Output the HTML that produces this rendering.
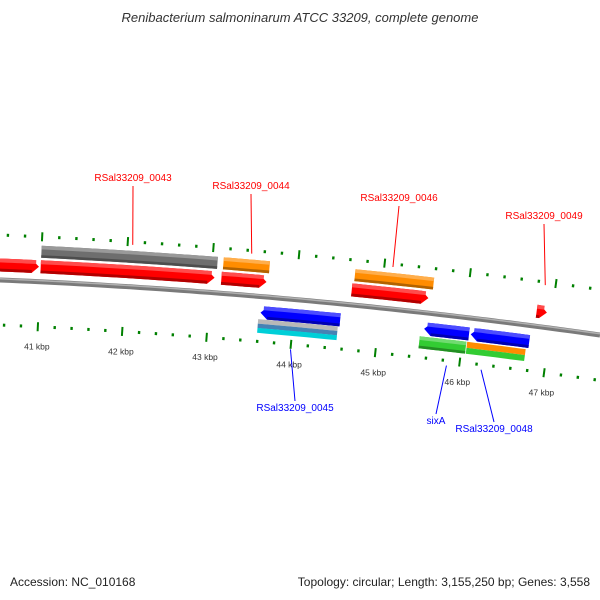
<!DOCTYPE html>
<html><head><meta charset="utf-8"><style>
body{margin:0;background:#fff}
svg{display:block;font-family:"Liberation Sans","DejaVu Sans",sans-serif}
</style></head><body>
<svg id="map" width="600" height="600" viewBox="0 0 600 600">
<text x="300" y="22" text-anchor="middle" font-size="13" font-style="italic" fill="#333">Renibacterium salmoninarum ATCC 33209, complete genome</text>
<text x="10" y="586" font-size="12" fill="#222">Accession: NC_010168</text>
<text x="590" y="586" font-size="12" fill="#222" text-anchor="end">Topology: circular; Length: 3,155,250 bp; Genes: 3,558</text>
<g id="g"></g>
</svg>
<script>
// feature data (kbp positions)
const featStart = [40.5, 41.0, 43.12, 44.65, 46.82, 41.0, 43.13, 44.67, 43.61, 45.54, 46.09, 43.59, 43.59, 43.59, 45.5, 46.06, 46.06];
const featEnd   = [40.98, 43.04, 43.65, 45.55, 46.94, 43.06, 43.67, 45.59, 44.55, 46.07, 46.78, 44.53, 44.53, 44.53, 46.05, 46.75, 46.75];
const featLane  = [-15, -15, -15, -15, -15, -30, -30, -30, 16, 16, 16, 25, 29.5, 34, 30, 27, 33];
const featHeight= [13, 13, 13, 13, 13, 12, 12, 12, 13, 13, 13, 4.5, 4.5, 5, 12, 6, 6];
const featDir   = [1, 1, 1, 1, 1, 0, 0, 0, -1, -1, -1, 0, 0, 0, 0, 0, 0];
const featColor = ["#ff0000","#ff0000","#ff0000","#ff0000","#ff0000","#6e6e6e","#ff8c00","#ff8c00","#0000ff","#0000ff","#0000ff","#b8b8b8","#4682b4","#00cfd8","#33cc33","#ff8c00","#33cc33"];
const tickMajors = [41, 42, 43, 44, 45, 46, 47];
const tickLabels = ["41 kbp","42 kbp","43 kbp","44 kbp","45 kbp","46 kbp","47 kbp"];
const labelNames = ["RSal33209_0043","RSal33209_0044","RSal33209_0046","RSal33209_0049","RSal33209_0045","sixA","RSal33209_0048"];
const labelKb    = [42.06, 43.45, 45.1, 46.88, 44.0, 45.85, 46.26];
const labelColor = ["#ff0000","#ff0000","#ff0000","#ff0000","#0000ff","#0000ff","#0000ff"];
const labelTextX = [133, 251, 399, 544, 295, 436, 494];
const labelTextY = [181, 189, 201, 219, 411, 424, 432];

const NS="http://www.w3.org/2000/svg", G=document.getElementById('g');
function kbToX(kb){return 40+(kb-41)*85;}
function pos(x,off){
  const t=x/600, y=280*(1-t)*(1-t)+2*292.5*t*(1-t)+335*t*t;
  const dy=25*(1-t)+85*t, L=Math.hypot(600,dy);
  return [x+off*dy/L, y-off*600/L];
}
function mk(tag,attrs){const e=document.createElementNS(NS,tag);for(const k in attrs)e.setAttribute(k,attrs[k]);G.appendChild(e);return e;}
function shade(c,f){const n=parseInt(c.slice(1),16);let r=n>>16,g=(n>>8)&255,b=n&255;
  if(f<0){r*=1+f;g*=1+f;b*=1+f;}else{r+=(255-r)*f;g+=(255-g)*f;b+=(255-b)*f;}
  return `rgb(${r|0},${g|0},${b|0})`;}
function band(x1,x2,o1,o2,dir,head){
  const pts=[],N=8,mid=(o1+o2)/2;
  let a=x1,b=x2;
  if(dir===1)b=x2-head; if(dir===-1)a=x1+head;
  for(let i=0;i<=N;i++)pts.push(pos(a+(b-a)*i/N,o1));
  if(dir===1)pts.push(pos(x2,mid));
  for(let i=N;i>=0;i--)pts.push(pos(a+(b-a)*i/N,o2));
  if(dir===-1)pts.push(pos(x1,mid));
  return pts.map(p=>p[0].toFixed(1)+','+p[1].toFixed(1)).join(' ');
}
let d='';for(let x=0;x<=600;x+=10){const p=pos(x,0);d+=(x?'L':'M')+p[0].toFixed(1)+','+p[1].toFixed(1);}
let bb=mk('path',{d:d,stroke:'#7a7a7a','stroke-width':5,fill:'none'});


let bb2=mk('path',{d:d,stroke:'#b0b0b0','stroke-width':1.5,fill:'none',transform:'translate(0,-1.2)'});


for(let k=40;k<=48.01;k+=0.2){
  const kb=Math.round(k*10)/10, x=kbToX(kb); if(x<-5||x>605)continue;
  const major=Math.abs(kb-Math.round(kb))<0.01;
  [45,-45].forEach(r=>{
    const len=major?4.5:1.5;
    const p1=pos(x,r-len),p2=pos(x,r+len);
    const l=mk('line',{x1:p1[0],y1:p1[1],x2:p2[0],y2:p2[1],stroke:'#008000','stroke-width':major?2:2.4});
    
    
  });
}
tickMajors.forEach((kb,i)=>{
  const p=pos(kbToX(kb),-65);
  const t=mk('text',{x:p[0],y:p[1]+3,'font-size':8.5,'text-anchor':'middle',fill:'#333'});
  t.textContent=tickLabels[i];
  
  
});
featStart.forEach((s,i)=>{
  const x1=kbToX(s),x2=kbToX(featEnd[i]),o=featLane[i],h=featHeight[i],c=featColor[i];
  const o1=-o+h/2,o2=-o-h/2;
  const gEl=document.createElementNS(NS,'g');G.appendChild(gEl);
  
  
  const head=7;
  const main=document.createElementNS(NS,'polygon');
  main.setAttribute('points',band(x1,x2,o1,o2,featDir[i],head));
  main.setAttribute('fill',c);gEl.appendChild(main);
  if(h>=8){
    const hi=document.createElementNS(NS,'polygon');
    hi.setAttribute('points',band(x1+(featDir[i]===-1?3:0),x2-(featDir[i]===1?3:0),o1,o1-h*0.3,0,0));
    hi.setAttribute('fill',shade(c,0.3));gEl.appendChild(hi);
    const lo=document.createElementNS(NS,'polygon');
    lo.setAttribute('points',band(x1+(featDir[i]===-1?head:0),x2-(featDir[i]===1?head:0),o2+h*0.22,o2,0,0));
    lo.setAttribute('fill',shade(c,-0.3));gEl.appendChild(lo);
  }
});
labelNames.forEach((n,i)=>{
  const x=kbToX(labelKb[i]);const out=labelColor[i]==="#ff0000";
  const p=pos(x,out?42:-50);
  const ty=labelTextY[i]+(out?5:-10);
  const l=mk('line',{x1:p[0],y1:p[1],x2:labelTextX[i],y2:ty,stroke:labelColor[i],'stroke-width':1});
  
  
  const t=mk('text',{x:labelTextX[i],y:labelTextY[i],'font-size':10,'text-anchor':'middle',fill:labelColor[i]});
  t.textContent=n;
  
  
});
</script>
</body></html>
